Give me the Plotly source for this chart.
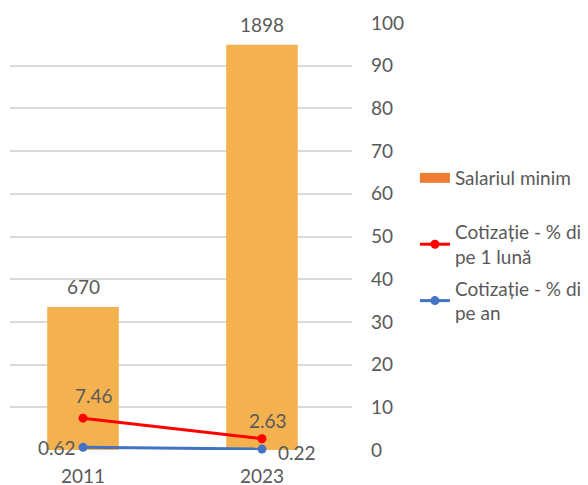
import plotly.graph_objects as go

years = ["2011", "2023"]
salariul_minim = [670, 1898]
cotizatie_luna = [7.46, 2.63]
cotizatie_an = [0.62, 0.22]

name_bar = "Salariul minim"
name_luna = "Cotizație - % din salariul minim<br>pe 1 lună"
name_an = "Cotizație - % din salariul minim<br>pe an"

FONT = "Lato, 'Open Sans', sans-serif"
GREY = "#595959"
FS = 19

fig = go.Figure()

fig.add_trace(go.Bar(
    x=years, y=salariul_minim, yaxis="y", width=0.4,
    marker=dict(color="#F4B150", line=dict(width=0)),
    showlegend=False, hoverinfo="skip",
))
# legend entry for the bar series (wide orange swatch)
fig.add_trace(go.Scatter(
    x=[None], y=[None], yaxis="y", name=name_bar, mode="lines",
    line=dict(color="#ED7D31", width=10), legend="legend",
))

fig.add_trace(go.Scatter(
    x=years, y=cotizatie_luna, yaxis="y2", mode="lines+markers",
    name=name_luna, legend="legend2", legendgroup="a",
    line=dict(color="#FF0000", width=3),
    marker=dict(color="#FF0000", size=9),
    cliponaxis=False,
))
fig.add_trace(go.Scatter(
    x=years, y=cotizatie_an, yaxis="y2", mode="lines+markers",
    name=name_an, legend="legend2", legendgroup="b",
    line=dict(color="#4472C4", width=3),
    marker=dict(color="#4472C4", size=9),
    cliponaxis=False,
))

lab_font = dict(family=FONT, size=FS, color=GREY)

# bar value labels
for i, v in enumerate(salariul_minim):
    fig.add_annotation(x=i, y=v, xref="x", yref="y", text=str(v),
                       showarrow=False, yanchor="middle", yshift=20,
                       font=lab_font)

# line value labels
luna_pos = [dict(xshift=11, yshift=23, xanchor="center"),
            dict(xshift=6, yshift=18, xanchor="center")]
an_pos = [dict(xshift=-5, yshift=0, xanchor="right"),
          dict(xshift=14, yshift=-3, xanchor="left")]
for i, v in enumerate(cotizatie_luna):
    fig.add_annotation(x=i, y=v, xref="x", yref="y2", text=f"{v:.2f}",
                       showarrow=False, yanchor="middle", font=lab_font,
                       **luna_pos[i])
for i, v in enumerate(cotizatie_an):
    fig.add_annotation(x=i, y=v, xref="x", yref="y2", text=f"{v:.2f}",
                       showarrow=False, yanchor="middle", font=lab_font,
                       **an_pos[i])

fig.update_layout(
    width=580, height=477,
    margin=dict(l=2, r=236, t=15, b=35, autoexpand=False),
    paper_bgcolor="white", plot_bgcolor="white",
    font=dict(family=FONT, size=FS, color=GREY),
    barmode="overlay",
    xaxis=dict(type="category", range=[-0.408, 1.503], showgrid=False,
               showline=False, zeroline=False, ticks="",
               tickfont=dict(family=FONT, size=FS, color=GREY),
               ticklabelstandoff=13),
    yaxis=dict(range=[0, 2000], dtick=200, showgrid=True,
               gridcolor="#D9D9D9", gridwidth=1.5, showticklabels=False,
               zeroline=False, showline=False, ticks=""),
    yaxis2=dict(range=[0, 100], dtick=10, overlaying="y", side="right",
                showgrid=False, zeroline=False, showline=False, ticks="",
                tickfont=dict(family=FONT, size=FS, color=GREY),
                ticklabelstandoff=18),
    legend=dict(x=1.184, y=0.637, xanchor="left", yanchor="middle",
                bgcolor="rgba(0,0,0,0)",
                font=dict(family=FONT, size=FS, color=GREY)),
    legend2=dict(x=1.184, y=0.555, xanchor="left", yanchor="top",
                 bgcolor="rgba(0,0,0,0)",
                 font=dict(family=FONT, size=FS, color=GREY),
                 tracegroupgap=4),
)

fig.write_html("out.html")
